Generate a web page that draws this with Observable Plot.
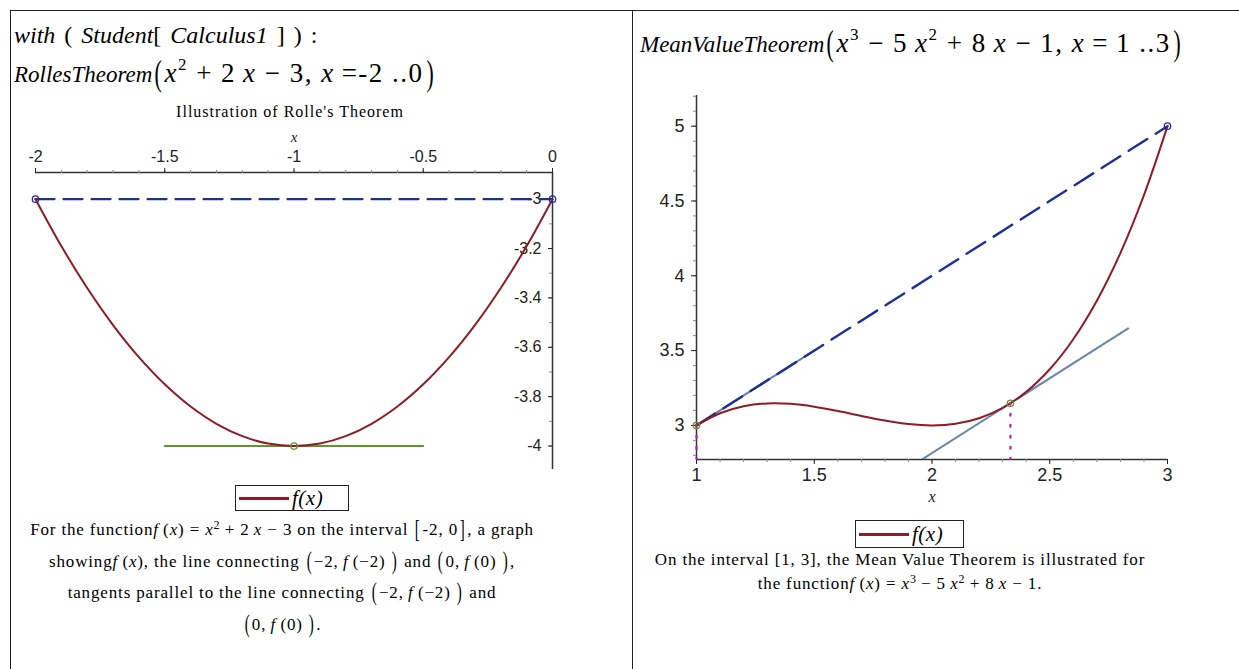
<!DOCTYPE html>
<html>
<head>
<meta charset="utf-8">
<script src="https://cdn.jsdelivr.net/npm/d3@7"></script>
<script src="https://cdn.jsdelivr.net/npm/@observablehq/plot@0.6"></script>
<style>
  html, body { margin: 0; padding: 0; background: #fff; }
  #page { position: relative; width: 1239px; height: 669px; overflow: hidden; background: #fff; font-family: "Liberation Serif", serif; color: #000; }
  .abs { position: absolute; white-space: nowrap; }
  .vline { position: absolute; width: 0; border-left: 1.5px solid #222; }
  .hline { position: absolute; height: 0; border-top: 1.5px solid #222; }
  .mi { font-family: "Liberation Serif", serif; font-size: 23px; }
  .mm { font-size: 27px; letter-spacing: 1.5px; }
  .it { font-style: italic; }
  .bp { font-size: 36px; display: inline-block; transform: scaleX(0.6); vertical-align: -3px; line-height: 20px; }
  .mi sup { font-size: 17px; vertical-align: 12px; line-height: 0; }
  .cap { font-family: "Liberation Serif", serif; font-size: 17px; letter-spacing: 0.85px; text-align: center; }
  .cap sup { font-size: 12px; vertical-align: 6px; line-height: 0; letter-spacing: 0; }
  .cp { font-size: 25px; display: inline-block; transform: scaleX(0.6); vertical-align: -2px; line-height: 14px; }
  .legend { position: absolute; border: 1.5px solid #222; box-sizing: border-box; display: flex; align-items: center; padding: 0 3px; font-family: "Liberation Serif", serif; font-size: 21px; font-style: italic; letter-spacing: 0.5px; }
  .legend .sw { display: inline-block; width: 50px; height: 0; border-top: 3px solid #8e1c28; margin-right: 3px; }
  .plot { position: absolute; }
</style>
</head>
<body>
<div id="page">
  <div class="hline" style="left:10px; top:10px; width:1229px;"></div>
  <div class="vline" style="left:10px; top:10px; height:659px;"></div>
  <div class="vline" style="left:632px; top:10px; height:659px;"></div>

  <div class="abs mi" style="left:14px; top:22px; font-size:24px; word-spacing:3px;"><span class="it">with</span> ( <span class="it">Student</span>[ <span class="it">Calculus1</span> ] ) :</div>
  <div class="abs mi" style="left:14px; top:58px;"><span class="it">RollesTheorem</span><span class="bp">(</span><span class="mm"><span class="it">x</span><sup>2</sup> + 2&#8201;<span class="it">x</span> − 3, <span class="it">x</span>&#8201;=-2 ..0</span><span class="bp">)</span></div>
  <div class="abs mi" style="left:640px; top:28px;"><span class="it">MeanValueTheorem</span><span class="bp">(</span><span class="mm"><span class="it">x</span><sup>3</sup> − 5&#8201;<span class="it">x</span><sup>2</sup> + 8&#8201;<span class="it">x</span> − 1, <span class="it">x</span>&#8201;=&#8201;1 ..3</span><span class="bp">)</span></div>

  <div class="abs" style="left:140px; top:103px; width:300px; text-align:center; font-family:'Liberation Serif',serif; font-size:16px; letter-spacing:1px;">Illustration of Rolle's Theorem</div>

  <div id="left" class="plot" style="left:0px; top:100px;"></div>
  <div id="right" class="plot" style="left:640px; top:80px;"></div>

  <div class="legend" style="left:235px; top:485px; width:114px; height:26px;"><span class="sw"></span><span><i>f</i>(<i>x</i>)</span></div>
  <div class="legend" style="left:855px; top:520px; width:109px; height:28px;"><span class="sw"></span><span><i>f</i>(<i>x</i>)</span></div>

  <div class="abs cap" style="left:2px; top:514px; width:560px; line-height:31.7px;">
    For the function<i>f</i>&#8201;(<i>x</i>) = <i>x</i><sup>2</sup> + 2&#8201;<i>x</i> − 3 on the interval <span class="cp">[</span>-2, 0<span class="cp">]</span>, a graph<br>
    showing<i>f</i>&#8201;(<i>x</i>), the line connecting <span class="cp">(</span>−2,&#8201;<i>f</i>&#8201;(−2)&#8201;<span class="cp">)</span> and <span class="cp">(</span>0,&#8201;<i>f</i>&#8201;(0)&#8201;<span class="cp">)</span>,<br>
    tangents parallel to the line connecting <span class="cp">(</span>−2,&#8201;<i>f</i>&#8201;(−2)&#8201;<span class="cp">)</span> and<br>
    <span class="cp">(</span>0,&#8201;<i>f</i>&#8201;(0)&#8201;<span class="cp">)</span>.
  </div>
  <div class="abs cap" style="left:625px; top:548px; width:550px; line-height:24px;">
    On the interval [1, 3], the Mean Value Theorem is illustrated for<br>
    the function<i>f</i>&#8201;(<i>x</i>) = <i>x</i><sup>3</sup> − 5&#8201;<i>x</i><sup>2</sup> + 8&#8201;<i>x</i> − 1.
  </div>
</div>

<script>
// ---------- Rolle's theorem panel data ----------
const rolleX = [-2, -1.9, -1.8, -1.7, -1.6, -1.5, -1.4, -1.3, -1.2, -1.1, -1, -0.9, -0.8, -0.7, -0.6, -0.5, -0.4, -0.3, -0.2, -0.1, 0];
const rolleY = [-3, -3.19, -3.36, -3.51, -3.64, -3.75, -3.84, -3.91, -3.96, -3.99, -4, -3.99, -3.96, -3.91, -3.84, -3.75, -3.64, -3.51, -3.36, -3.19, -3];
const rolleSecantX = [-2, 0];
const rolleSecantY = [-3, -3];
const rolleTangentX = [-1.5, -0.5];
const rolleTangentY = [-4, -4];
const rolleCx = [-1];
const rolleCy = [-4];
const rolleXDomain = [-2, 0];
const rolleYDomain = [-4.095, -2.892];
const rolleXTicks = [-2, -1.5, -1, -0.5, 0];
const rolleYTicks = [-3, -3.2, -3.4, -3.6, -3.8, -4];

// ---------- Mean value theorem panel data ----------
const mvtX = [1, 1.1, 1.2, 1.3, 1.4, 1.5, 1.6, 1.7, 1.8, 1.9, 2, 2.1, 2.2, 2.3, 2.4, 2.5, 2.6, 2.7, 2.8, 2.9, 3];
const mvtY = [3, 3.081, 3.128, 3.147, 3.144, 3.125, 3.096, 3.063, 3.032, 3.009, 3, 3.011, 3.048, 3.117, 3.224, 3.375, 3.576, 3.833, 4.152, 4.539, 5];
const mvtSecantX = [1, 3];
const mvtSecantY = [3, 5];
const mvtTangent1X = [0.5, 1.5];
const mvtTangent1Y = [2.5, 3.5];
const mvtTangent2X = [1.833, 2.833];
const mvtTangent2Y = [2.648, 3.648];
const mvtCx = [1, 2.333];
const mvtCy = [3, 3.148];
const mvtXDomain = [1, 3];
const mvtYDomain = [2.772, 5.205];
const mvtXTicks = [1, 1.5, 2, 2.5, 3];
const mvtYTicks = [3, 3.5, 4, 4.5, 5];

// ---------- colours ----------
const curveColor = "#8e1c28";
const secantColor = "#1f2f96";
const greenColor = "#5e9a22";
const tangentBlue = "#6786ad";
const dotColor = "#b020b0";
const axisColor = "#333";

const fmt = d => String(d);
const pts = (xs, ys) => xs.map((x, i) => ({x, y: ys[i]}));
const minor = (a, b) => d3.range(Math.round(a * 10), Math.round(b * 10) + 1).map(k => k / 10);
const tickFont = "'Liberation Sans', sans-serif";

// ---------- left plot ----------
{
  const W = 620, H = 400, mL = 35, mR = 68, mT = 72, mB = 31;
  const innerW = W - mL - mR;
  const svg = Plot.plot({
    width: W, height: H,
    marginLeft: mL, marginRight: mR, marginTop: mT, marginBottom: mB,
    style: {fontFamily: tickFont, fontSize: "16px", background: "transparent", overflow: "visible", color: "#222"},
    x: {domain: rolleXDomain, label: null},
    y: {domain: rolleYDomain, label: null},
    marks: [
      Plot.ruleY([rolleYDomain[1]], {stroke: axisColor, strokeWidth: 1.5}),
      Plot.ruleX([rolleXDomain[1]], {stroke: axisColor, strokeWidth: 1.5}),
      Plot.axisX(minor(-2, 0), {anchor: "top", tickSize: 3, tickFormat: () => "", label: null, stroke: "#888"}),
      Plot.axisX(rolleXTicks, {anchor: "top", tickSize: 5, tickPadding: 6, tickFormat: fmt, label: null, fontSize: 16, fontFamily: tickFont, letterSpacing: "1.5px"}),
      Plot.axisY(minor(-4, -3), {anchor: "left", dx: innerW, tickSize: 3, tickFormat: () => "", label: null, stroke: "#888"}),
      Plot.axisY(rolleYTicks, {anchor: "left", dx: innerW, tickSize: 4, tickPadding: 7, tickFormat: fmt, label: null, fontSize: 16, fontFamily: tickFont, letterSpacing: "1.5px"}),
      Plot.text(["x"], {frameAnchor: "top", lineAnchor: "middle", dy: -35, fontStyle: "italic", fontFamily: "'Liberation Serif', serif", fontSize: 15}),
      Plot.line(pts(rolleSecantX, rolleSecantY), {x: "x", y: "y", stroke: secantColor, strokeWidth: 2.2, strokeDasharray: "19,9"}),
      Plot.line(pts(rolleTangentX, rolleTangentY), {x: "x", y: "y", stroke: greenColor, strokeWidth: 2}),
      Plot.line(pts(rolleX, rolleY), {x: "x", y: "y", stroke: curveColor, strokeWidth: 2, curve: "catmull-rom"}),
      Plot.dot(pts(rolleSecantX, rolleSecantY), {x: "x", y: "y", r: 3.2, stroke: secantColor, strokeWidth: 1.3, fill: "none"}),
      Plot.dot(pts(rolleCx, rolleCy), {x: "x", y: "y", r: 3.2, stroke: greenColor, strokeWidth: 1.3, fill: "none"})
    ]
  });
  document.getElementById("left").appendChild(svg);
}

// ---------- right plot ----------
{
  const W = 599, H = 440, mL = 56, mR = 72, mT = 15, mB = 61;
  const svg = Plot.plot({
    width: W, height: H,
    marginLeft: mL, marginRight: mR, marginTop: mT, marginBottom: mB,
    style: {fontFamily: tickFont, fontSize: "18px", background: "transparent", overflow: "visible", color: "#222"},
    x: {domain: mvtXDomain, label: null},
    y: {domain: mvtYDomain, label: null},
    marks: [
      Plot.ruleY([mvtYDomain[0]], {stroke: axisColor, strokeWidth: 1.5}),
      Plot.ruleX([mvtXDomain[0]], {stroke: axisColor, strokeWidth: 1.5}),
      Plot.axisX(minor(1, 3), {anchor: "bottom", tickSize: 3, tickFormat: () => "", label: null, stroke: "#888"}),
      Plot.axisX(mvtXTicks, {anchor: "bottom", tickSize: 5, tickPadding: 4, tickFormat: fmt, label: null, fontSize: 18, fontFamily: tickFont, letterSpacing: "1.5px"}),
      Plot.axisY(minor(2.8, 5.2), {anchor: "left", tickSize: 3, tickFormat: () => "", label: null, stroke: "#888"}),
      Plot.axisY(mvtYTicks, {anchor: "left", tickSize: 5, tickPadding: 7, tickFormat: fmt, label: null, fontSize: 18, fontFamily: tickFont, letterSpacing: "1.5px"}),
      Plot.text(["x"], {frameAnchor: "bottom", lineAnchor: "middle", dy: 37, fontStyle: "italic", fontFamily: "'Liberation Serif', serif", fontSize: 16}),
      Plot.line(pts(mvtTangent1X, mvtTangent1Y), {x: "x", y: "y", stroke: tangentBlue, strokeWidth: 2, clip: true}),
      Plot.line(pts(mvtSecantX, mvtSecantY), {x: "x", y: "y", stroke: secantColor, strokeWidth: 2.4, strokeDasharray: "22,10"}),
      Plot.line(pts(mvtTangent2X, mvtTangent2Y), {x: "x", y: "y", stroke: tangentBlue, strokeWidth: 2, clip: true}),
      Plot.line(pts(mvtX, mvtY), {x: "x", y: "y", stroke: curveColor, strokeWidth: 2, curve: "catmull-rom"}),
      Plot.ruleX(pts(mvtCx, mvtCy), {x: "x", y1: "y", y2: () => mvtYDomain[0], stroke: dotColor, strokeWidth: 2.2, strokeDasharray: "2,9", strokeLinecap: "round"}),
      Plot.dot(pts([mvtSecantX[1]], [mvtSecantY[1]]), {x: "x", y: "y", r: 3.2, stroke: secantColor, strokeWidth: 1.3, fill: "none"}),
      Plot.dot(pts(mvtCx, mvtCy), {x: "x", y: "y", r: 3.2, stroke: greenColor, strokeWidth: 1.3, fill: "none"})
    ]
  });
  document.getElementById("right").appendChild(svg);
}
</script>
</body>
</html>
